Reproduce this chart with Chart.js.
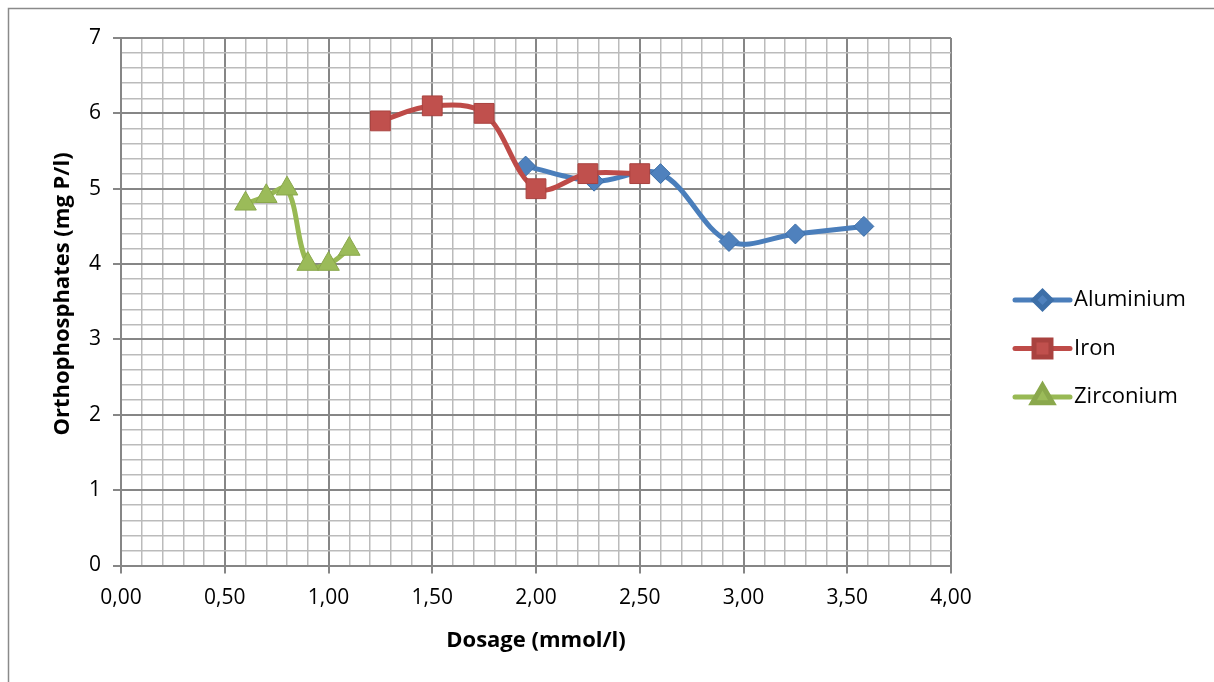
<!DOCTYPE html>
<html>
<head>
<meta charset="utf-8">
<script src="https://cdn.jsdelivr.net/npm/chart.js@4.4.1/dist/chart.umd.min.js"></script>
<style>
html, body { margin: 0; padding: 0; background: #fff; }
#wrap { position: relative; width: 1214px; height: 682px; }
</style>
</head>
<body>
<div id="wrap"><canvas id="chart"></canvas></div>
<script>
const aluminiumDose = [1.95, 2.28, 2.60, 2.93, 3.25, 3.58];
const aluminiumP    = [5.3, 5.1, 5.2, 4.3, 4.4, 4.5];
const ironDose      = [1.25, 1.50, 1.75, 2.00, 2.25, 2.50];
const ironP         = [5.9, 6.1, 6.0, 5.0, 5.2, 5.2];
const zirconiumDose = [0.60, 0.70, 0.80, 0.90, 1.00, 1.10];
const zirconiumP    = [4.8, 4.9, 5.0, 4.0, 4.0, 4.2];

const xTitle = 'Dosage (mmol/l)';
const yTitle = 'Orthophosphates (mg P/l)';

const FONT = "'Open Sans', 'Noto Sans', sans-serif";
const MAJOR = '#868686';
const MINOR = '#bbbbbb';

function pairs(xs, ys) {
    return xs.map((x, i) => ({ x: x, y: ys[i] }));
}

function isMajorX(v) { return Math.abs(v * 2 - Math.round(v * 2)) < 1e-6; }
function isMajorY(v) { return Math.abs(v - Math.round(v)) < 1e-6; }

// grey frame around the whole chart, like the Excel chart area
const frame = {
    id: 'frame',
    beforeDraw(chart) {
        const ctx = chart.ctx;
        ctx.save();
        ctx.fillStyle = '#fff';
        ctx.fillRect(0, 0, chart.width, chart.height);
        ctx.strokeStyle = '#8a8a8a';
        ctx.lineWidth = 1.5;
        ctx.strokeRect(8.5, 8.5, chart.width + 20, chart.height + 20);
        ctx.restore();
    }
};

// legend on the right: line + marker + label
const sideLegend = {
    id: 'sideLegend',
    afterDraw(chart) {
        const ctx = chart.ctx;
        const area = chart.chartArea;
        const x0 = area.right + 64, x1 = area.right + 119;
        ctx.save();
        chart.data.datasets.forEach((ds, i) => {
            const y = 300 + i * 48.5;
            ctx.strokeStyle = ds.borderColor;
            ctx.lineWidth = 5;
            ctx.lineCap = 'round';
            ctx.beginPath();
            ctx.moveTo(x0, y);
            ctx.lineTo(x1, y);
            ctx.stroke();
            ctx.fillStyle = ds.pointBackgroundColor;
            ctx.strokeStyle = ds.pointBorderColor;
            Chart.helpers.drawPoint(ctx, {
                pointStyle: ds.pointStyle,
                radius: ds.legendRadius,
                rotation: 0,
                borderWidth: 1
            }, (x0 + x1) / 2, y);
            ctx.fillStyle = '#000';
            ctx.font = "22px " + FONT;
            ctx.textBaseline = 'middle';
            ctx.textAlign = 'left';
            ctx.fillText(ds.label, x1 + 4, y);
        });
        ctx.restore();
    }
};

// vertical axis title, placed where Excel puts it
const yAxisTitle = {
    id: 'yAxisTitle',
    afterDraw(chart) {
        const ctx = chart.ctx;
        ctx.save();
        ctx.translate(63, 294);
        ctx.rotate(-Math.PI / 2);
        ctx.fillStyle = '#000';
        ctx.font = "bold 22px " + FONT;
        ctx.textAlign = 'center';
        ctx.textBaseline = 'middle';
        ctx.fillText(yTitle, 0, 0);
        ctx.restore();
    }
};

const common = {
    showLine: true,
    borderWidth: 5,
    tension: 0.35,
    pointBorderWidth: 1,
    pointHoverRadius: 0
};

new Chart(document.getElementById('chart'), {
    type: 'scatter',
    data: {
        datasets: [
            Object.assign({}, common, {
                label: 'Aluminium',
                data: pairs(aluminiumDose, aluminiumP),
                borderColor: '#4a7ebb',
                pointBackgroundColor: '#4f81bd',
                pointBorderColor: '#3d6fa8',
                pointStyle: 'rectRot',
                pointRadius: 10,
                legendRadius: 8.5,
                order: 3
            }),
            Object.assign({}, common, {
                label: 'Iron',
                data: pairs(ironDose, ironP),
                borderColor: '#be4b48',
                pointBackgroundColor: '#c0504d',
                pointBorderColor: '#a9423f',
                pointStyle: 'rect',
                pointRadius: 14,
                legendRadius: 12,
                order: 2
            }),
            Object.assign({}, common, {
                label: 'Zirconium',
                data: pairs(zirconiumDose, zirconiumP),
                borderColor: '#98b954',
                pointBackgroundColor: '#9bbb59',
                pointBorderColor: '#8aa84c',
                pointStyle: 'triangle',
                pointRadius: 12.5,
                legendRadius: 11.5,
                order: 1
            })
        ]
    },
    options: {
        responsive: true,
        maintainAspectRatio: false,
        animation: false,
        events: [],
        layout: { padding: { left: 8, top: 38, right: 263, bottom: 0 } },
        plugins: {
            legend: { display: false },
            tooltip: { enabled: false }
        },
        scales: {
            x: {
                type: 'linear',
                min: 0,
                max: 4,
                afterFit: (scale) => { scale.height = 116.5; },
                ticks: {
                    stepSize: 0.1,
                    autoSkip: false,
                    maxRotation: 0,
                    padding: 12,
                    color: '#000',
                    font: { family: FONT, size: 21 },
                    callback: (v) => isMajorX(v) ? v.toFixed(2).replace('.', ',') : ''
                },
                grid: {
                    color: (c) => isMajorX(c.tick.value) ? MAJOR : MINOR,
                    tickColor: (c) => isMajorX(c.tick.value) ? MAJOR : 'rgba(0,0,0,0)',
                    lineWidth: (c) => isMajorX(c.tick.value) ? 2 : 1.5,
                    tickLength: 8
                },
                border: { color: MAJOR, width: 2 },
                title: {
                    display: true,
                    text: xTitle,
                    color: '#000',
                    font: { family: FONT, size: 22, weight: 'bold' },
                    padding: { top: 0, bottom: 28 }
                }
            },
            y: {
                type: 'linear',
                min: 0,
                max: 7,
                afterFit: (scale) => { scale.width = 113; },
                ticks: {
                    stepSize: 0.2,
                    autoSkip: false,
                    padding: 12,
                    color: '#000',
                    font: { family: FONT, size: 21 },
                    callback: (v) => isMajorY(v) ? String(Math.round(v)) : ''
                },
                grid: {
                    color: (c) => isMajorY(c.tick.value) ? MAJOR : MINOR,
                    tickColor: (c) => isMajorY(c.tick.value) ? MAJOR : 'rgba(0,0,0,0)',
                    lineWidth: (c) => isMajorY(c.tick.value) ? 2 : 1.5,
                    tickLength: 8
                },
                border: { color: MAJOR, width: 2 }
            }
        }
    },
    plugins: [frame, sideLegend, yAxisTitle]
});
</script>
</body>
</html>
